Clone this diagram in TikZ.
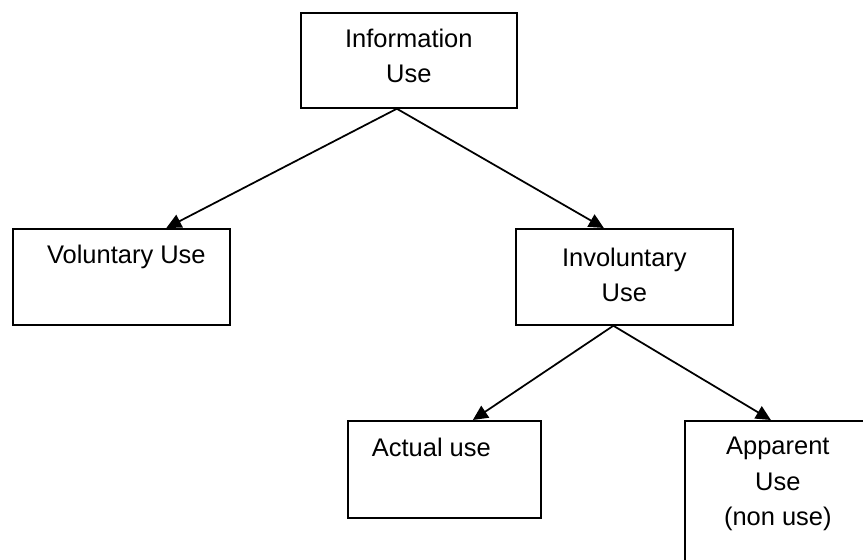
\documentclass[tikz,border=0pt]{standalone}
\usepackage{fontspec}
\setmainfont{Liberation Sans}
\usetikzlibrary{arrows.meta,positioning}
\tikzset{
  usebox/.style={draw,line width=1pt,inner sep=0pt,anchor=north west},
  usetext/.style={font=\fontsize{14.5}{20}\selectfont,align=center,inner sep=0pt},
  uselink/.style={-{Triangle[length=8.5pt,width=8pt]},line width=1pt}
}
\begin{document}
\begin{tikzpicture}[x=0.02cm,y=-0.02cm]
  \useasboundingbox (0,0) rectangle (863,560);
  \clip (0,0) rectangle (863,560);
  \node[usebox,minimum width=4.32cm,minimum height=1.9cm] (info) at (300,12) {};
  \node[usebox,minimum width=4.34cm,minimum height=1.92cm] (vol) at (12,228) {};
  \node[usebox,minimum width=4.34cm,minimum height=1.92cm] (invol) at (515,228) {};
  \node[usebox,minimum width=3.86cm,minimum height=1.94cm] (actual) at (347,420) {};
  \node[usebox,minimum width=4.4cm,minimum height=3.4cm] (apparent) at (684,420) {};
  \node[usetext,below=0.34cm of info.north] (infotext) {Information\\Use};
  \node[usetext,below=0.34cm of vol.north,xshift=0.1cm] (voltext) {Voluntary Use};
  \node[usetext,below=0.4cm of invol.north] (involtext) {Involuntary\\Use};
  \node[usetext,below=0.36cm of actual.north,xshift=-0.26cm] (actualtext) {Actual use};
  \node[usetext,below=0.34cm of apparent.north,xshift=-0.34cm] (apparenttext) {Apparent\\Use\\(non use)};
  \coordinate (infofoot) at ([xshift=-0.24cm]info.south);
  \coordinate (involfoot) at ([xshift=-0.22cm]invol.south);
  \draw[uselink] (infofoot) -- ([xshift=0.9cm]vol.north);
  \draw[uselink] (infofoot) -- ([xshift=-0.41cm]invol.north);
  \draw[uselink] (involfoot) -- ([xshift=0.57cm]actual.north);
  \draw[uselink] (involfoot) -- ([xshift=-0.48cm]apparent.north);
\end{tikzpicture}
\end{document}
